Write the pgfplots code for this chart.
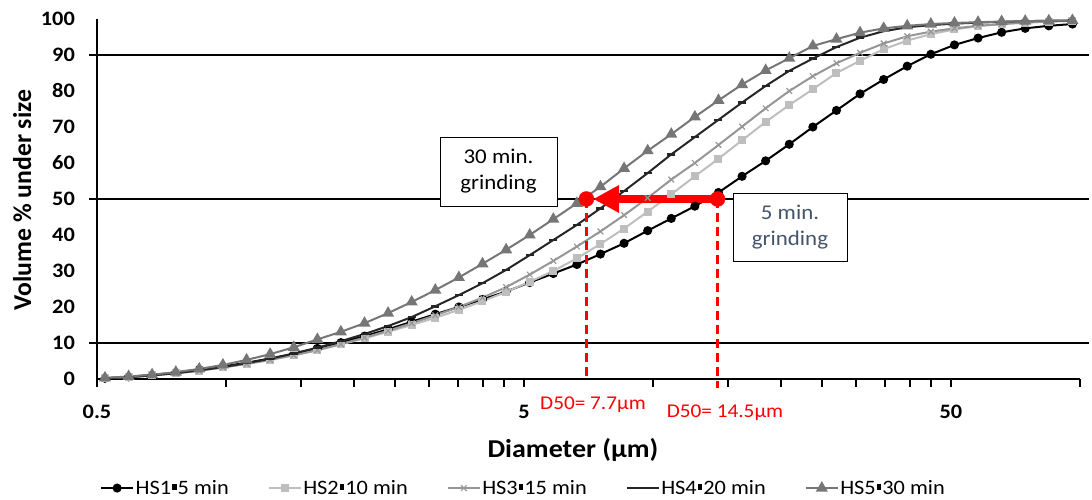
\documentclass[border=0pt]{standalone}
\usepackage{pgfplots}
\pgfplotsset{compat=1.18}
\usepackage{pgfplotstable}
\usepackage{fontspec}
\setmainfont{Carlito}[FakeStretch=1.09]
\newfontfamily\ylabfont{Carlito}
\usetikzlibrary{arrows.meta}
\definecolor{cA}{RGB}{0,0,0}
\definecolor{cB}{RGB}{190,190,190}
\definecolor{cC}{RGB}{150,150,150}
\definecolor{cD}{RGB}{38,38,38}
\definecolor{cE}{RGB}{118,118,118}
\definecolor{boxtext}{RGB}{68,84,106}
\newcommand{\sq}{\hspace{0.05em}\rule[0.22em]{0.22em}{0.28em}\hspace{0.05em}}
\pgfplotstableread{
x a b c d e
0.522 0.2 0.2 0.2 0.2 0.3
0.593 0.6 0.5 0.5 0.5 0.7
0.673 1.1 1.0 1.0 1.0 1.2
0.765 1.8 1.6 1.6 1.6 1.9
0.868 2.6 2.3 2.3 2.4 2.8
0.986 3.5 3.2 3.2 3.3 3.9
1.120 4.5 4.2 4.2 4.4 5.3
1.272 5.7 5.3 5.3 5.6 6.9
1.445 7.0 6.6 6.6 7.1 8.8
1.641 8.5 8.0 8.0 8.7 11.0
1.863 10.1 9.6 9.7 10.5 13.1
2.116 11.9 11.3 11.5 12.5 15.5
2.403 13.8 13.1 13.4 14.7 18.3
2.729 15.9 15.0 15.5 17.2 21.4
3.100 18.0 17.0 17.7 20.2 24.7
3.520 20.0 19.2 20.0 23.3 28.2
3.998 22.1 21.6 22.6 26.6 32.0
4.541 24.3 24.2 25.5 30.3 35.9
5.157 26.8 27.0 29.0 34.4 40.0
5.857 29.3 30.0 32.8 38.6 44.4
6.651 31.8 33.5 36.8 42.8 48.8
7.554 34.7 37.5 41.0 47.4 53.4
8.579 37.7 41.8 45.5 52.2 58.5
9.743 41.2 46.5 50.3 57.2 63.4
11.065 44.6 51.3 55.4 62.4 68.0
12.566 48.0 56.3 60.0 67.2 72.8
14.272 51.8 61.2 65.0 72.0 77.4
16.208 56.3 66.3 70.1 76.8 81.8
18.408 60.6 71.4 75.2 81.4 85.7
20.905 65.2 76.1 80.0 85.6 89.1
23.742 70.0 80.5 84.1 89.0 92.5
26.964 74.6 85.0 87.7 92.2 94.4
30.623 79.2 88.4 90.6 94.8 96.2
34.778 83.2 91.6 93.2 96.6 97.4
39.498 86.9 94.0 95.2 97.7 98.1
44.858 90.2 95.8 96.5 98.3 98.6
50.945 92.8 97.1 97.4 98.7 98.9
57.858 94.7 98.0 98.1 99.0 99.1
65.710 96.3 98.6 98.6 99.2 99.3
74.627 97.4 99.0 99.0 99.4 99.4
84.753 98.1 99.3 99.3 99.5 99.5
96.254 98.6 99.5 99.5 99.6 99.6
}\data
\begin{document}
\begin{tikzpicture}[x=1bp,y=1bp]
\path[use as bounding box] (0,0) rectangle (1092,500);
\begin{axis}[
  at={(97bp,121bp)}, anchor=south west,
  scale only axis, width=982.5bp, height=360bp,
  xmode=log, log basis x=10,
  xmin=0.5, xmax=100, ymin=0, ymax=100,
  clip=false,
  axis x line*=bottom, axis y line*=left,
  axis line style={line width=2.2bp, black},
  xtick={0.5,5,50}, xticklabels={0.5,5,50},
  minor xtick={1,1.5,2,2.5,3,3.5,4,4.5,10,15,20,25,30,35,40,45,100},
  tick align=outside,
  major tick length=8bp, minor tick length=8bp,
  x tick style={line width=2bp, black},
  ytick={0,10,...,100},
  y tick style={draw=none},
  /pgf/number format/assume math mode=true,
  ticklabel style={font=\fontsize{20.5bp}{24bp}\selectfont\bfseries},
  xticklabel style={yshift=-15bp},
  yticklabel style={anchor=east, inner sep=0pt, xshift=-14bp},
  xlabel={Diameter (µm)},
  ylabel={Volume \% under size},
  xlabel style={font=\fontsize{25.7bp}{30bp}\selectfont\bfseries, at={(axis description cs:0.4845,-0.196)}, anchor=center},
  ylabel style={font=\ylabfont\fontsize{25.7bp}{30bp}\selectfont\bfseries, at={(axis description cs:-0.076,0.497)}, anchor=center, rotate=0},
  legend columns=5,
  legend style={at={(axis description cs:0.003,-0.303)}, anchor=west, draw=none, fill=none,
    inner sep=0pt, font=\fontsize{20.5bp}{24bp}\selectfont,
    nodes={inner xsep=1.5bp},
    /tikz/every even column/.append style={column sep=37.5bp}},
  legend image code/.code={\draw[mark repeat=2,mark phase=2] plot coordinates {(0bp,0bp) (16bp,0bp) (32bp,0bp)};},
]
\draw[line width=2bp, black] ([xshift=-8bp]rel axis cs:0,0.1) -- ([xshift=9bp]rel axis cs:1,0.1);
\draw[line width=2bp, black] ([xshift=-8bp]rel axis cs:0,0.5) -- ([xshift=9bp]rel axis cs:1,0.5);
\draw[line width=2bp, black] ([xshift=-8bp]rel axis cs:0,0.9) -- ([xshift=9bp]rel axis cs:1,0.9);
\addplot[cA, line width=2bp, mark=*, mark size=3.5bp] table[x=x, y=a] {\data};
\addlegendentry{HS1\sq5 min}
\addplot[cB, line width=2bp, mark=square*, mark size=3bp] table[x=x, y=b] {\data};
\addlegendentry{HS2\sq10 min}
\addplot[cC, line width=2bp, mark=x, mark size=4bp, mark options={line width=1.2bp}] table[x=x, y=c] {\data};
\addlegendentry{HS3\sq15 min}
\addplot[cD, line width=2bp, mark=-, mark size=4bp, mark options={line width=2.5bp}] table[x=x, y=d] {\data};
\addlegendentry{HS4\sq20 min}
\addplot[cE, line width=2bp, mark=triangle*, mark size=5bp] table[x=x, y=e] {\data};
\addlegendentry{HS5\sq30 min}
\addplot[red, line width=2.5bp, dash pattern=on 9bp off 5bp, forget plot] coordinates {(7.0,50) (7.0,0)};
\addplot[red, line width=2.5bp, dash pattern=on 9bp off 5bp, forget plot] coordinates {(14.2,50) (14.2,-2.5)};
\draw[red, line width=8bp, -{Triangle[length=26bp, width=26bp]}] (axis cs:14.2,50) -- (axis cs:7.26,50);
\addplot[only marks, red, mark=*, mark size=7.5bp, forget plot] coordinates {(7.0,50) (14.2,50)};
\end{axis}
\node[draw=black, line width=0.8bp, fill=white, minimum width=117bp, minimum height=69bp, align=center, inner sep=2bp,
  font=\fontsize{21bp}{26bp}\selectfont] at (498.5,328.5) {30 min.\\grinding};
\node[draw=black, line width=0.8bp, fill=white, minimum width=114bp, minimum height=68bp, align=center, inner sep=2bp,
  font=\fontsize{21bp}{26bp}\selectfont, text=boxtext] at (790,273) {5 min.\\grinding};
\node[red, font=\fontsize{19.5bp}{22bp}\selectfont] at (593,95) {D50= 7.7µm};
\node[red, font=\fontsize{19.5bp}{22bp}\selectfont] at (725,87) {D50= 14.5µm};
\end{tikzpicture}
\end{document}
